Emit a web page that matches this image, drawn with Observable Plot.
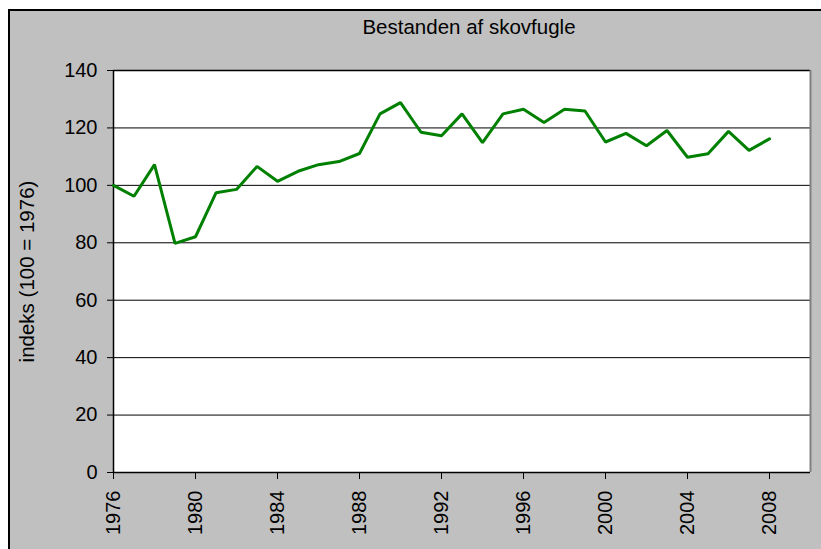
<!DOCTYPE html>
<html>
<head>
<meta charset="utf-8">
<script src="https://cdn.jsdelivr.net/npm/d3@7"></script>
<script src="https://cdn.jsdelivr.net/npm/@observablehq/plot@0.6"></script>
<style>
  html, body { margin: 0; padding: 0; background: white; }
  #wrap { position: relative; width: 821px; height: 549px; overflow: hidden; }
  #bg { position: absolute; left: 8px; top: 9px; width: 813px; height: 540px; background: #c0c0c0;
        border-left: 2px solid black; border-top: 2px solid black; }
  #chart { position: absolute; left: 0; top: 0; }
</style>
</head>
<body>
<div id="wrap"><div id="bg"></div><div id="chart"></div></div>
<script>
const title = "Bestanden af skovfugle";
const yLabel = "indeks (100 = 1976)";
const years = [1976,1977,1978,1979,1980,1981,1982,1983,1984,1985,1986,1987,1988,1989,1990,1991,1992,
               1993,1994,1995,1996,1997,1998,1999,2000,2001,2002,2003,2004,2005,2006,2007,2008];
const values = [100,96.2,107.2,79.8,82.1,97.4,98.6,106.6,101.4,104.9,107.2,108.3,111.1,124.9,128.8,118.5,117.3,
                124.9,114.9,124.9,126.5,121.9,126.5,125.9,115.1,118.1,113.8,119.1,109.8,111.0,118.8,112.2,116.2];
const xTicks = [1976,1980,1984,1988,1992,1996,2000,2004,2008];
const yTicks = [0,20,40,60,80,100,120,140];
const gridValues = [20,40,60,80,100,120];

const data = years.map((y, i) => ({year: y, value: values[i]}));

const chart = Plot.plot({
  width: 821,
  height: 549,
  marginLeft: 113,
  marginRight: 11,
  marginTop: 70,
  marginBottom: 77,
  style: {background: "transparent", fontFamily: "'Liberation Sans', Arial, sans-serif", color: "black"},
  x: {domain: [1976, 2010]},
  y: {domain: [0, 140]},
  marks: [
    Plot.frame({fill: "white", stroke: null}),
    Plot.gridY(gridValues, {stroke: "black", strokeOpacity: 1}),
    Plot.ruleY([140], {stroke: "black", strokeWidth: 1.5}),
    Plot.ruleY([0], {stroke: "black", strokeWidth: 1.5}),
    Plot.ruleX([1976], {stroke: "black", strokeWidth: 1.5}),
    Plot.ruleX([2010], {stroke: "#808080", strokeWidth: 2}),
    Plot.axisY({ticks: yTicks, tickSize: 6, tickPadding: 10, fontSize: 20, label: null}),
    Plot.axisX({ticks: xTicks, tickFormat: "d", tickRotate: -90, tickSize: 7, tickPadding: 11, fontSize: 20, label: null}),
    Plot.line(data, {x: "year", y: "value", stroke: "#008000", strokeWidth: 3, strokeLinejoin: "miter"}),
    Plot.text([title], {text: d => d, frameAnchor: "top", textAnchor: "middle", lineAnchor: "middle", dy: -43, dx: 7, fontSize: 20.5}),
    Plot.text([yLabel], {text: d => d, frameAnchor: "left", textAnchor: "middle", lineAnchor: "middle", dx: -86, rotate: -90, fontSize: 20.5})
  ]
});
document.getElementById("chart").appendChild(chart);
</script>
</body>
</html>
